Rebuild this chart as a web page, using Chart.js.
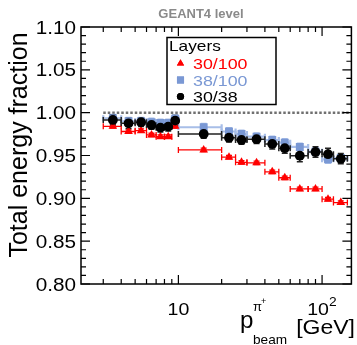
<!DOCTYPE html>
<html>
<head>
<meta charset="utf-8">
<script src="https://cdn.jsdelivr.net/npm/chart.js@4.4.1/dist/chart.umd.min.js"></script>
<style>
  html, body { margin: 0; padding: 0; background: #fff; }
  #wrap { width: 357px; height: 345px; }
</style>
</head>
<body>
<div id="wrap"><canvas id="fracChart" width="357" height="345"></canvas></div>
<script>
// Beam momentum bins [GeV]
const binLow  = [3, 4, 5, 6, 7, 8, 9, 10, 20, 25, 30, 40, 50, 60, 80, 100, 120];
const binHigh = [4, 5, 6, 7, 8, 9, 10, 20, 25, 30, 40, 50, 60, 80, 100, 120, 150];
const beamEnergy = [3.5, 4.5, 5.5, 6.5, 7.5, 8.5, 9.5, 15, 22.5, 27.5, 35, 45, 55, 70, 90, 110, 135];

// Energy fraction per layer ratio
const frac30over100 = [0.984, 0.978, 0.979, 0.974, 0.972, 0.972, 0.984, 0.9565, 0.948, 0.942, 0.9415, 0.931, 0.924, 0.911, 0.911, 0.899, 0.895];
const frac38over100 = [0.9935, 0.990, 0.990, 0.989, 0.988, 0.988, 0.993, 0.983, 0.978, 0.975, 0.972, 0.968, 0.965, 0.960, 0.9545, 0.9455, 0.947];
const frac30over38  = [0.9915, 0.9876, 0.9888, 0.9856, 0.9825, 0.9837, 0.9907, 0.9751, 0.9708, 0.9681, 0.969, 0.9635, 0.9585, 0.9498, 0.9541, 0.9515, 0.9463];

// Statistical errors
const err30over100 = [0.002, 0.002, 0.002, 0.002, 0.002, 0.002, 0.002, 0.002, 0.002, 0.002, 0.002, 0.002, 0.002, 0.002, 0.002, 0.002, 0.002];
const err38over100 = [0.004, 0.004, 0.004, 0.004, 0.004, 0.004, 0.004, 0.004, 0.004, 0.004, 0.004, 0.004, 0.004, 0.004, 0.004, 0.004, 0.004];
const err30over38  = [0.006, 0.006, 0.005, 0.005, 0.005, 0.005, 0.006, 0.005, 0.005, 0.005, 0.005, 0.006, 0.006, 0.007, 0.006, 0.007, 0.006];

const yTickLabels = ['0.80', '0.85', '0.90', '0.95', '1.00', '1.05', '1.10'];
const xMajorTicks = [10, 100];

const RED = '#ff0000';
const BLUE = 'rgb(122,152,212)';
const BLUE_LIGHT = 'rgb(168,190,232)';
const FONT = '"Liberation Sans", Arial, sans-serif';

function toPoints(vals) {
    return beamEnergy.map((e, i) => ({ x: e, y: vals[i] }));
}

// Text drawn with a slight horizontal stretch, like the ROOT output
function drawText(ctx, txt, x, y, size, opts = {}) {
    const sx = opts.sx || 1.15;
    ctx.save();
    ctx.font = (opts.bold ? 'bold ' : '') + size + 'px ' + FONT;
    ctx.fillStyle = opts.color || '#000';
    ctx.textAlign = opts.align || 'left';
    ctx.textBaseline = opts.baseline || 'alphabetic';
    ctx.translate(x, y);
    if (opts.rotate) ctx.rotate(opts.rotate);
    ctx.scale(sx, 1);
    ctx.fillText(txt, 0, 0);
    ctx.restore();
}

function drawErrors(ctx, xs, ys, vals, errs, color, width) {
    ctx.save();
    ctx.strokeStyle = color;
    ctx.lineWidth = width;
    for (let i = 0; i < vals.length; i++) {
        const x0 = xs.getPixelForValue(binLow[i]);
        const x1 = xs.getPixelForValue(binHigh[i]);
        const xc = xs.getPixelForValue(beamEnergy[i]);
        const yc = ys.getPixelForValue(vals[i]);
        const yLo = ys.getPixelForValue(vals[i] - errs[i]);
        const yHi = ys.getPixelForValue(vals[i] + errs[i]);
        ctx.beginPath();
        ctx.moveTo(x0, yc); ctx.lineTo(x1, yc);
        ctx.moveTo(x0, yc - 3); ctx.lineTo(x0, yc + 3);
        ctx.moveTo(x1, yc - 3); ctx.lineTo(x1, yc + 3);
        ctx.moveTo(xc, yLo); ctx.lineTo(xc, yHi);
        ctx.moveTo(xc - 3, yLo); ctx.lineTo(xc + 3, yLo);
        ctx.moveTo(xc - 3, yHi); ctx.lineTo(xc + 3, yHi);
        ctx.stroke();
    }
    ctx.restore();
}

const rootStyle = {
    id: 'rootStyle',
    beforeDatasetsDraw(chart) {
        const ctx = chart.ctx;
        const xs = chart.scales.x, ys = chart.scales.y;
        // reference line at unity
        ctx.save();
        ctx.strokeStyle = '#707070';
        ctx.lineWidth = 2.5;
        ctx.setLineDash([2.5, 2]);
        ctx.beginPath();
        ctx.moveTo(xs.getPixelForValue(3), ys.getPixelForValue(1.0));
        ctx.lineTo(xs.right, ys.getPixelForValue(1.0));
        ctx.stroke();
        ctx.restore();

        drawErrors(ctx, xs, ys, frac30over100, err30over100, RED, 1.3);
        drawErrors(ctx, xs, ys, frac38over100, err38over100, BLUE_LIGHT, 2.2);
        drawErrors(ctx, xs, ys, frac30over38, err30over38, '#222', 1.5);
    },
    afterDraw(chart) {
        const ctx = chart.ctx;
        const xs = chart.scales.x, ys = chart.scales.y;
        const a = chart.chartArea;

        // frame
        ctx.save();
        ctx.strokeStyle = '#000';
        ctx.lineWidth = 1.5;
        ctx.strokeRect(a.left, a.top, a.right - a.left, a.bottom - a.top);

        // y ticks, inside on both sides
        ctx.lineWidth = 1.2;
        ctx.beginPath();
        for (let k = 0; k <= 30; k++) {
            const v = 0.80 + k * 0.01;
            const py = ys.getPixelForValue(v);
            const len = (k % 5 === 0) ? 9 : 5;
            ctx.moveTo(a.left, py); ctx.lineTo(a.left + len, py);
            ctx.moveTo(a.right, py); ctx.lineTo(a.right - len, py);
        }
        // x ticks (log), inside top and bottom
        const decades = [1, 10, 100];
        decades.forEach(d => {
            for (let m = 1; m <= 9; m++) {
                const v = d * m;
                if (v < xs.min || v > xs.max) continue;
                const px = xs.getPixelForValue(v);
                const len = (m === 1) ? 9 : 5;
                ctx.moveTo(px, a.bottom); ctx.lineTo(px, a.bottom - len);
                ctx.moveTo(px, a.top); ctx.lineTo(px, a.top + len);
            }
        });
        ctx.stroke();
        ctx.restore();

        // y tick labels
        yTickLabels.forEach(lbl => {
            const py = ys.getPixelForValue(parseFloat(lbl));
            drawText(ctx, lbl, a.left - 5, py + 6.5, 18, { align: 'right' });
        });

        // x tick labels
        const p10 = xs.getPixelForValue(xMajorTicks[0]);
        drawText(ctx, '10', p10, 315, 17, { align: 'center' });
        const p100 = xs.getPixelForValue(xMajorTicks[1]);
        drawText(ctx, '10', p100 - 4, 315, 17, { align: 'center' });
        drawText(ctx, '2', p100 + 7, 306, 12, { align: 'left' });

        // axis titles
        drawText(ctx, 'Total energy fraction', 27, 145, 25, { align: 'center', rotate: -Math.PI / 2, sx: 1.0 });
        drawText(ctx, 'p', 240, 328, 23, { sx: 1.05 });
        drawText(ctx, '\u03c0', 253, 311, 13, { sx: 1.0 });
        drawText(ctx, '+', 261, 304, 9, { sx: 1.0 });
        drawText(ctx, 'beam', 253, 344, 13, { sx: 1.05 });
        drawText(ctx, '[GeV]', 355, 334, 20, { align: 'right' });

        // title
        drawText(ctx, 'GEANT4 level', 201, 18, 13, { align: 'center', bold: true, color: '#8a8a8a', sx: 1.0 });

        // legend box
        ctx.save();
        ctx.fillStyle = '#fff';
        ctx.fillRect(167, 37.5, 109, 67);
        ctx.strokeStyle = '#000';
        ctx.lineWidth = 1.5;
        ctx.strokeRect(167, 37.5, 109, 67);
        ctx.restore();
        drawText(ctx, 'Layers', 169, 51, 15, {});
        const entries = [
            { txt: '30/100', color: RED, style: 'triangle', r: 4.2, y: 63.5 },
            { txt: '38/100', color: BLUE, style: 'rect', r: 5, y: 80 },
            { txt: '30/38', color: '#000', style: 'circle', r: 3.6, y: 96.5 }
        ];
        entries.forEach(en => {
            ctx.save();
            ctx.fillStyle = en.color;
            ctx.strokeStyle = en.color;
            Chart.helpers.drawPoint(ctx, { pointStyle: en.style, radius: en.r, borderWidth: 0 }, 180.5, en.y);
            ctx.fill();
            ctx.restore();
            drawText(ctx, en.txt, 193, en.y + 5.5, 15.5, { color: en.color });
        });
    }
};

new Chart(document.getElementById('fracChart'), {
    type: 'scatter',
    data: {
        datasets: [
            {
                label: '30/38',
                data: toPoints(frac30over38),
                pointStyle: 'circle',
                pointRadius: 4.9,
                backgroundColor: '#000',
                borderColor: '#000',
                borderWidth: 0,
                order: 1
            },
            {
                label: '38/100',
                data: toPoints(frac38over100),
                pointStyle: 'rect',
                pointRadius: 5.6,
                backgroundColor: BLUE,
                borderColor: BLUE,
                borderWidth: 0,
                order: 2
            },
            {
                label: '30/100',
                data: toPoints(frac30over100),
                pointStyle: 'triangle',
                pointRadius: 5,
                backgroundColor: RED,
                borderColor: RED,
                borderWidth: 0,
                order: 3
            }
        ]
    },
    options: {
        responsive: false,
        animation: false,
        layout: { padding: { left: 81, top: 27, right: 2, bottom: 61 } },
        scales: {
            x: { type: 'logarithmic', min: 2.1, max: 160, display: false },
            y: { type: 'linear', min: 0.80, max: 1.10, display: false }
        },
        plugins: {
            legend: { display: false },
            tooltip: { enabled: false }
        }
    },
    plugins: [rootStyle]
});
</script>
</body>
</html>
